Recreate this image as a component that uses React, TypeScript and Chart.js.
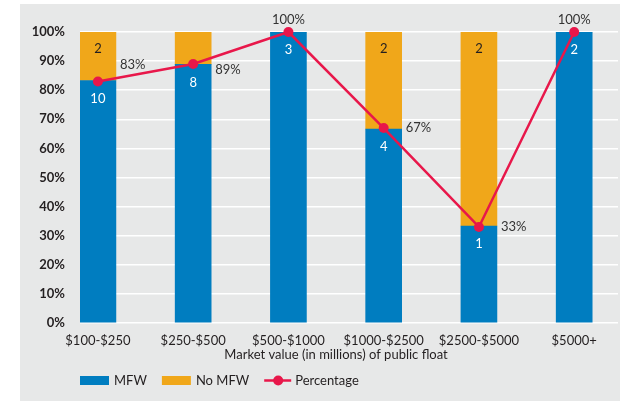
import React, { useEffect, useRef } from 'react';
import { Chart, registerables } from 'chart.js';

Chart.register(...registerables);

const categories = ['$100-$250', '$250-$500', '$500-$1000', '$1000-$2500', '$2500-$5000', '$5000+'];
const mfwCounts = [10, 8, 3, 4, 1, 2];
const noMfwCounts = [2, 1, 0, 2, 2, 0];
const percentages = [83, 89, 100, 67, 33, 100];
const xTitle = 'Market value (in millions) of public float';

const FONT = 'Lato';
const TEXT = '#231F20';
const BLUE = '#007DC0';
const ORANGE = '#F0A71A';
const RED = '#E8174A';

const mfwShare = mfwCounts.map((m, i) => (m / (m + noMfwCounts[i])) * 100);
const noMfwShare = noMfwCounts.map((n, i) => (n / (mfwCounts[i] + n)) * 100);

// vertical nudges for the percentage labels placed right of their point
const pctLabelDy = [-17, 6, 0, 0, 0, 0];

const overlayPlugin = {
  id: 'overlay',
  afterDatasetsDraw(chart: any) {
    const ctx = chart.ctx as CanvasRenderingContext2D;
    ctx.save();
    ctx.font = `13px ${FONT}`;
    ctx.textBaseline = 'middle';
    ctx.textAlign = 'center';
    chart.getDatasetMeta(1).data.forEach((bar: any, i: number) => {
      const v = mfwCounts[i];
      if (!v) return;
      ctx.fillStyle = '#FFFFFF';
      ctx.fillText(String(v), bar.x, bar.y + 18);
    });
    chart.getDatasetMeta(2).data.forEach((bar: any, i: number) => {
      const v = noMfwCounts[i];
      const h = Math.abs(bar.base - bar.y);
      if (!v || h < 40) return;
      ctx.fillStyle = TEXT;
      ctx.fillText(String(v), bar.x, bar.y + 17);
    });
    chart.getDatasetMeta(0).data.forEach((pt: any, i: number) => {
      const v = percentages[i];
      ctx.fillStyle = '#333333';
      if (v >= 100) {
        ctx.textAlign = 'center';
        ctx.fillText(v + '%', pt.x, pt.y - 12);
      } else {
        ctx.textAlign = 'left';
        ctx.fillText(v + '%', pt.x + 22, pt.y + pctLabelDy[i]);
      }
    });
    ctx.restore();
  },
  afterDraw(chart: any) {
    const ctx = chart.ctx as CanvasRenderingContext2D;
    const xs = chart.scales.x;
    ctx.save();
    ctx.font = `13px ${FONT}`;
    ctx.fillStyle = TEXT;
    ctx.textBaseline = 'middle';
    ctx.textAlign = 'center';
    const cx = (xs.getPixelForValue(-0.5) + xs.getPixelForValue(categories.length - 0.5)) / 2;
    ctx.fillText(xTitle, cx, 355);
    ctx.textAlign = 'left';
    const ly = 380.5;
    let x = chart.chartArea.left;
    const ds = chart.data.datasets;
    const items = [ds[1], ds[2], ds[0]];
    items.forEach((d: any) => {
      if (d.type === 'line') {
        ctx.strokeStyle = d.borderColor;
        ctx.lineWidth = 2.5;
        ctx.beginPath();
        ctx.moveTo(x, ly);
        ctx.lineTo(x + 27, ly);
        ctx.stroke();
        ctx.fillStyle = d.borderColor;
        ctx.beginPath();
        ctx.arc(x + 14, ly, 5, 0, Math.PI * 2);
        ctx.fill();
        x += 31;
      } else {
        ctx.fillStyle = d.backgroundColor;
        ctx.fillRect(x, ly - 4.5, 29, 9);
        x += 34;
      }
      ctx.fillStyle = TEXT;
      ctx.fillText(d.label, x, ly);
      x += ctx.measureText(d.label).width + 15;
    });
    ctx.restore();
  },
};

export default function App() {
  const ref = useRef<HTMLCanvasElement>(null);
  useEffect(() => {
    document.body.style.margin = '0';
    const chart = new Chart(ref.current!, {
      type: 'bar',
      data: {
        datasets: [
          {
            type: 'line',
            label: 'Percentage',
            data: percentages.map((p, i) => ({ x: i, y: p })),
            borderColor: RED,
            backgroundColor: RED,
            borderWidth: 2.5,
            pointRadius: 5,
            pointBorderWidth: 0,
            pointBackgroundColor: RED,
            stack: 'line',
            order: 0,
            clip: false,
          } as any,
          {
            type: 'bar',
            label: 'MFW',
            data: mfwShare.map((v, i) => ({ x: i, y: v })),
            backgroundColor: BLUE,
            barThickness: 36,
            stack: 'bars',
            order: 1,
          },
          {
            type: 'bar',
            label: 'No MFW',
            data: noMfwShare.map((v, i) => ({ x: i, y: v })),
            backgroundColor: ORANGE,
            barThickness: 36,
            stack: 'bars',
            order: 2,
          },
        ],
      },
      options: {
        responsive: false,
        animation: false,
        layout: { padding: { top: 32, right: 3, left: 0, bottom: 0 } },
        plugins: { legend: { display: false }, tooltip: { enabled: false } },
        scales: {
          x: {
            type: 'linear',
            min: -0.188,
            max: 5.46,
            offset: false,
            bounds: 'data',
            stacked: true,
            grid: { display: false, drawTicks: false, offset: false },
            border: { display: false },
            afterBuildTicks: (s: any) => {
              s.ticks = categories.map((_, i) => ({ value: i }));
            },
            afterFit: (s: any) => {
              s.height = 78;
            },
            ticks: {
              autoSkip: false,
              maxRotation: 0,
              padding: 10,
              color: TEXT,
              font: { family: FONT, size: 13 },
              callback: (v: any) => categories[v as number],
            },
          },
          y: {
            min: 0,
            max: 100,
            stacked: true,
            grid: { color: '#FFFFFF', lineWidth: 1.5, drawTicks: false },
            border: { display: false },
            afterFit: (s: any) => {
              s.width = 80;
            },
            ticks: {
              stepSize: 10,
              padding: 15,
              color: TEXT,
              font: { family: FONT, size: 13, weight: 'bold' },
              callback: (v: any) => v + '%',
            },
          },
        },
      },
      plugins: [overlayPlugin],
    } as any);
    return () => chart.destroy();
  }, []);
  return (
    <div style={{ position: 'relative', width: 623, height: 401, background: '#FFFFFF' }}>
      <div style={{ position: 'absolute', left: 20, top: 4, width: 600, height: 397, background: '#E7E8E8' }} />
      <canvas ref={ref} width={623} height={401} style={{ position: 'absolute', left: 0, top: 0, width: 623, height: 401 }} />
    </div>
  );
}
